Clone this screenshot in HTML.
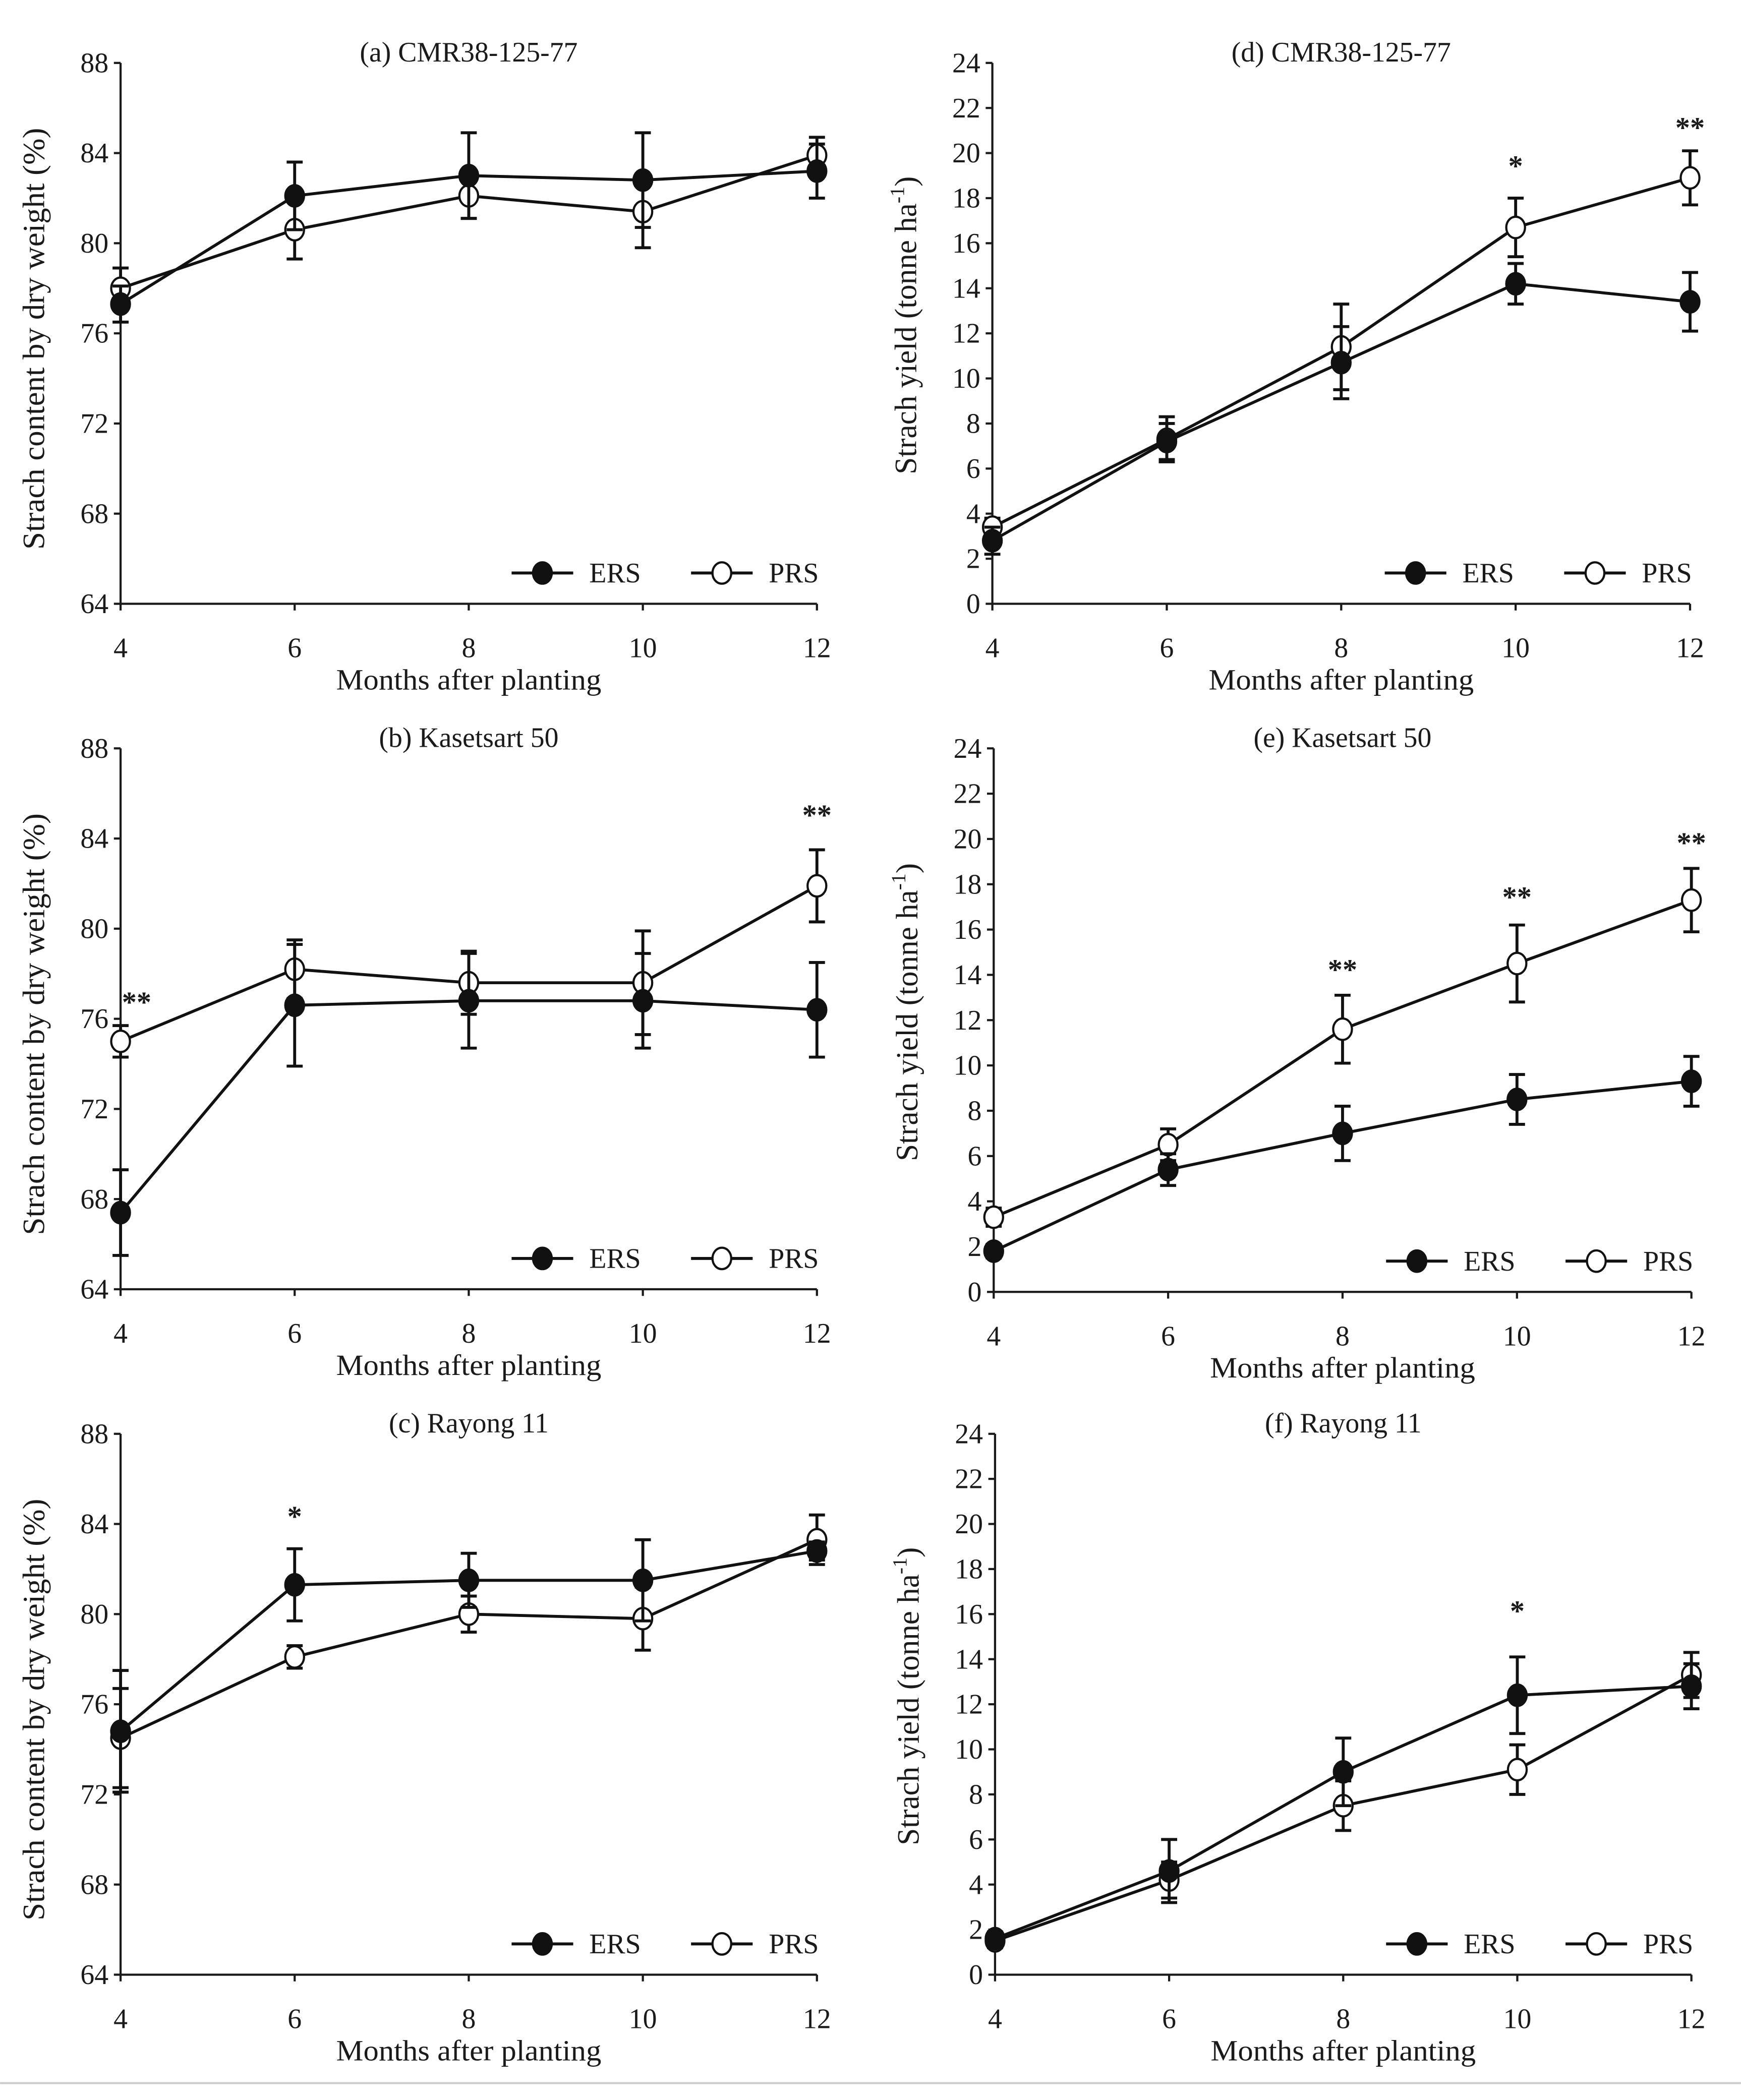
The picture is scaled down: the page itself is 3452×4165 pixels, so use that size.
<!DOCTYPE html>
<html><head><meta charset="utf-8"><style>
html,body{margin:0;padding:0;background:#fff;}
svg{display:block;}
text{font-family:"Liberation Serif",serif;fill:#1a1a1a;}
</style></head><body>
<svg id="fig" width="3452" height="4165" viewBox="0 0 1300 1568.6" xmlns="http://www.w3.org/2000/svg">
<line x1="0" y1="1556" x2="1300" y2="1556" stroke="#ccc" stroke-width="1.5"/>
</svg>
<script>
const months = [4, 6, 8, 10, 12];
// (a)
const aERS = [77.3, 82.1, 83.0, 82.8, 83.2];
const aERSerr = [0.8, 1.5, 1.9, 2.1, 1.2];
const aPRS = [78.0, 80.6, 82.1, 81.4, 83.9];
const aPRSerr = [0.9, 1.3, 1.0, 1.6, 0.8];
const aStars = [];
// (b)
const bERS = [67.4, 76.6, 76.8, 76.8, 76.4];
const bERSerr = [1.9, 2.7, 2.1, 2.1, 2.1];
const bPRS = [75.0, 78.2, 77.6, 77.6, 81.9];
const bPRSerr = [0.7, 1.3, 1.4, 2.3, 1.6];
const bStars = [[4, 76.3, "**"], [12, 84.6, "**"]];
// (c)
const cERS = [74.8, 81.3, 81.5, 81.5, 82.8];
const cERSerr = [2.7, 1.6, 1.2, 1.8, 0.4];
const cPRS = [74.5, 78.1, 80.0, 79.8, 83.3];
const cPRSerr = [2.2, 0.5, 0.8, 1.4, 1.1];
const cStars = [[6, 83.9, "*"]];
// (d)
const dERS = [2.8, 7.2, 10.7, 14.2, 13.4];
const dERSerr = [0.6, 0.8, 1.6, 0.9, 1.3];
const dPRS = [3.4, 7.3, 11.4, 16.7, 18.9];
const dPRSerr = [0.4, 1.0, 1.9, 1.3, 1.2];
const dStars = [[10, 19.0, "*"], [12, 20.7, "**"]];
// (e)
const eERS = [1.8, 5.4, 7.0, 8.5, 9.3];
const eERSerr = [0.3, 0.7, 1.2, 1.1, 1.1];
const ePRS = [3.3, 6.5, 11.6, 14.5, 17.3];
const ePRSerr = [0.4, 0.7, 1.5, 1.7, 1.4];
const eStars = [[8, 13.8, "**"], [10, 17.0, "**"], [12, 19.4, "**"]];
// (f)
const fERS = [1.6, 4.6, 9.0, 12.4, 12.8];
const fERSerr = [0.3, 1.4, 1.5, 1.7, 1.0];
const fPRS = [1.5, 4.2, 7.5, 9.1, 13.3];
const fPRSerr = [0.3, 0.8, 1.1, 1.1, 1.0];
const fStars = [[10, 15.7, "*"]];

const contentTicks = [64, 68, 72, 76, 80, 84, 88];
const yieldTicks = [0, 2, 4, 6, 8, 10, 12, 14, 16, 18, 20, 22, 24];

const svg = document.getElementById('fig');
const NS = 'http://www.w3.org/2000/svg';
function mk(tag, attrs, parent) {
  const e = document.createElementNS(NS, tag);
  for (const k in attrs) e.setAttribute(k, attrs[k]);
  (parent || svg).appendChild(e);
  return e;
}

function panel(id, title, x0, x1, yTop, yBot, ticks, ylabel, isYield, ERS, ERSerr, PRS, PRSerr, stars) {
  const g = mk('g', {});
  
  
  const ymin = ticks[0], ymax = ticks[ticks.length - 1];
  const X = m => x0 + (m - 4) / 8 * (x1 - x0);
  const Y = v => yBot - (v - ymin) / (ymax - ymin) * (yBot - yTop);
  const st = {stroke: '#1a1a1a', 'stroke-width': 1.6, fill: 'none'};
  const ya = mk('line', Object.assign({x1: x0, y1: yTop, x2: x0, y2: yBot}, st), g);
  
  
  const xa = mk('line', Object.assign({x1: x0, y1: yBot, x2: x1, y2: yBot}, st), g);
  
  
  ticks.forEach(t => {
    mk('line', Object.assign({x1: x0 - 5, y1: Y(t), x2: x0, y2: Y(t)}, st), g);
    const tx = mk('text', {x: x0 - 9, y: Y(t) + 7, 'text-anchor': 'end', 'font-size': 21}, g);
    tx.textContent = t;
    
    
  });
  months.forEach(m => {
    mk('line', Object.assign({x1: X(m), y1: yBot, x2: X(m), y2: yBot + 5}, st), g);
    const tx = mk('text', {x: X(m), y: yBot + 40, 'text-anchor': 'middle', 'font-size': 21}, g);
    tx.textContent = m;
    
    
  });
  const xt = mk('text', {x: (x0 + x1) / 2, y: yBot + 64, 'text-anchor': 'middle', 'font-size': 22, textLength: 198, lengthAdjust: 'spacingAndGlyphs'}, g);
  xt.textContent = 'Months after planting';
  
  
  const tt = mk('text', {x: (x0 + x1) / 2, y: yTop - 1, 'text-anchor': 'middle', 'font-size': 21}, g);
  tt.textContent = title;
  
  
  const cy = (yTop + yBot) / 2 + (isYield ? -6 : 4), lx = x0 - 57;
  const yt = mk('text', {x: lx, y: cy, 'text-anchor': 'middle', 'font-size': 23, transform: 'rotate(-90 ' + lx + ' ' + cy + ')'}, g);
  if (isYield) {
    yt.innerHTML = 'Strach yield (tonne ha<tspan dy="-9" font-size="15">-1</tspan><tspan dy="9">)</tspan>';
  } else {
    yt.textContent = ylabel;
    yt.setAttribute('textLength', 315);
    yt.setAttribute('lengthAdjust', 'spacingAndGlyphs');
  }
  
  

  function series(vals, errs, fill, name) {
    const sg = mk('g', {}, g);
    
    
    const pts = vals.map((v, i) => X(months[i]) + ',' + Y(v)).join(' ');
    const pl = mk('polyline', {points: pts, fill: 'none', stroke: '#111', 'stroke-width': 2.2}, sg);
    
    
    vals.forEach((v, i) => {
      const x = X(months[i]);
      const e = errs[i];
      const eb = mk('path', {d: 'M' + x + ' ' + Y(v - e) + 'V' + Y(v + e) + 'M' + (x - 6) + ' ' + Y(v + e) + 'H' + (x + 6) + 'M' + (x - 6) + ' ' + Y(v - e) + 'H' + (x + 6), stroke: '#111', 'stroke-width': 2.2, fill: 'none'}, sg);
      
      
    });
    vals.forEach((v, i) => {
      const c = mk('ellipse', {cx: X(months[i]), cy: Y(v), rx: 7, ry: 8, fill: fill, stroke: '#111', 'stroke-width': 1.6}, sg);
      
      
    });
  }
  series(PRS, PRSerr, '#fff', 'prs');
  series(ERS, ERSerr, '#111', 'ers');
  stars.forEach(s => {
    const t = mk('text', {x: X(s[0]) + (s[0] === 4 ? 12 : 0), y: Y(s[1]), 'text-anchor': 'middle', 'font-size': 22, 'font-weight': 'bold'}, g);
    t.textContent = s[2];
    
    
  });
  const lg = mk('g', {}, g);
  
  
  const ly = yBot - 23;
  const lx0 = x1 - 228;
  [['ERS', '#111', lx0], ['PRS', '#fff', lx0 + 134]].forEach(([n, f, lxx]) => {
    const le = mk('g', {}, lg);
    
    
    mk('line', {x1: lxx, y1: ly, x2: lxx + 46, y2: ly, stroke: '#111', 'stroke-width': 2.2}, le);
    mk('ellipse', {cx: lxx + 23, cy: ly, rx: 7, ry: 8, fill: f, stroke: '#111', 'stroke-width': 1.6}, le);
    const t = mk('text', {x: lxx + 58, y: ly + 7, 'font-size': 21}, le);
    t.textContent = n;
  });
}

const cl = 'Strach content by dry weight (%)';
panel('a', '(a) CMR38-125-77', 90, 610, 47, 451, contentTicks, cl, false, aERS, aERSerr, aPRS, aPRSerr, aStars);
panel('b', '(b) Kasetsart 50', 90, 610, 559, 963, contentTicks, cl, false, bERS, bERSerr, bPRS, bPRSerr, bStars);
panel('c', '(c) Rayong 11', 90, 610, 1071, 1475, contentTicks, cl, false, cERS, cERSerr, cPRS, cPRSerr, cStars);
panel('d', '(d) CMR38-125-77', 741, 1262, 47, 451, yieldTicks, '', true, dERS, dERSerr, dPRS, dPRSerr, dStars);
panel('e', '(e) Kasetsart 50', 742, 1263, 559, 965, yieldTicks, '', true, eERS, eERSerr, ePRS, ePRSerr, eStars);
panel('f', '(f) Rayong 11', 743, 1263, 1071, 1475, yieldTicks, '', true, fERS, fERSerr, fPRS, fPRSerr, fStars);
</script>
</body></html>
